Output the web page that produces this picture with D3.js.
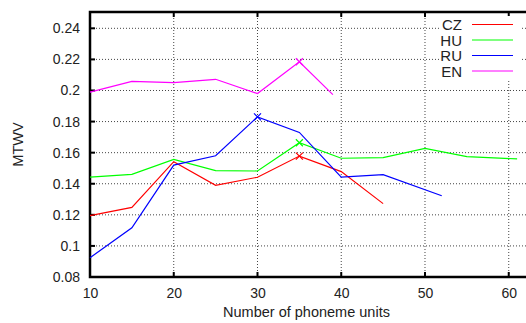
<!DOCTYPE html>
<html><head><meta charset="utf-8">
<script src="https://cdn.jsdelivr.net/npm/d3@7"></script>
<style>body{margin:0;background:#fff}svg{display:block}text{font-family:"Liberation Sans",Arial,sans-serif;fill:#222}</style>
</head><body>
<script>
const seriesNames = ["CZ", "HU", "RU", "EN"];
const seriesColors = ["#ff0000", "#00ff00", "#0000ff", "#ff00ff"];
const czX = [10, 15, 20, 25, 30, 35, 40, 45];
const czY = [0.1195, 0.1248, 0.1542, 0.1390, 0.1442, 0.1578, 0.1478, 0.1272];
const huX = [10, 15, 20, 25, 30, 35, 40, 45, 50, 55, 61];
const huY = [0.1442, 0.1460, 0.1557, 0.1484, 0.1482, 0.1664, 0.1564, 0.1568, 0.1628, 0.1574, 0.1560];
const ruX = [10, 15, 20, 25, 30, 35, 40, 45, 52];
const ruY = [0.0924, 0.1117, 0.1520, 0.1580, 0.1830, 0.1730, 0.1442, 0.1458, 0.1323];
const enX = [10, 15, 20, 25, 30, 35, 39];
const enY = [0.1990, 0.2058, 0.2050, 0.2072, 0.1980, 0.2185, 0.1973];
const xTicks = [10, 20, 30, 40, 50, 60];
const yTicks = [0.08, 0.1, 0.12, 0.14, 0.16, 0.18, 0.2, 0.22, 0.24];
const yTickLabels = ["0.08", "0.1", "0.12", "0.14", "0.16", "0.18", "0.2", "0.22", "0.24"];
const xLabel = "Number of phoneme units";
const yLabel = "MTWV";

const W = 526, H = 323;
const m = {left: 90, top: 12, right: -2, bottom: 46};
const svg = d3.select("body").append("svg").attr("width", W).attr("height", H);
const x = d3.scaleLinear().domain([10, 62.3]).range([m.left, W - m.right]);
const y = d3.scaleLinear().domain([0.08, 0.2505]).range([H - m.bottom, m.top]);

const g = svg.append("g");
// grid
g.selectAll(".gx").data(xTicks.slice(1)).enter().append("line")
  .attr("x1", d => x(d)).attr("x2", d => x(d)).attr("y1", y(0.08)).attr("y2", m.top)
  .attr("stroke", "#444").attr("stroke-width", 1).attr("stroke-dasharray", "1,2");
g.selectAll(".gy").data(yTicks.slice(1)).enter().append("line")
  .attr("x1", m.left).attr("x2", W).attr("y1", d => y(d)).attr("y2", d => y(d))
  .attr("stroke", "#444").attr("stroke-width", 1).attr("stroke-dasharray", "1,2");

// axes via d3
const xAxis = d3.axisBottom(x).tickValues(xTicks).tickSize(0).tickPadding(11).tickFormat(d3.format("d"));
const yAxis = d3.axisLeft(y).tickValues(yTicks).tickSize(0).tickPadding(10).tickFormat((d, i) => yTickLabels[i]);
const gx = svg.append("g").attr("transform", `translate(0,${y(0.08)})`).call(xAxis);
const gy = svg.append("g").attr("transform", `translate(${m.left},0)`).call(yAxis);
[gx, gy].forEach(a => { a.select(".domain").remove(); a.selectAll("text").attr("font-size", 14).attr("fill", "#222"); });

// inward tick marks
g.selectAll(".tx").data(xTicks).enter().append("line")
  .attr("x1", d => x(d)).attr("x2", d => x(d)).attr("y1", y(0.08)).attr("y2", y(0.08) - 5)
  .attr("stroke", "#000").attr("stroke-width", 2);
g.selectAll(".tx2").data(xTicks).enter().append("line")
  .attr("x1", d => x(d)).attr("x2", d => x(d)).attr("y1", m.top).attr("y2", m.top + 5)
  .attr("stroke", "#000").attr("stroke-width", 2);
g.selectAll(".ty").data(yTicks).enter().append("line")
  .attr("x1", m.left).attr("x2", m.left + 5).attr("y1", d => y(d)).attr("y2", d => y(d))
  .attr("stroke", "#000").attr("stroke-width", 2);

// legend background (hides grid behind the key)
svg.append("rect").attr("x", 441).attr("y", 16).attr("width", 79).attr("height", 63).attr("fill", "#fff");

// frame
svg.append("path").attr("d", `M${W},${m.top}H${m.left}V${y(0.08)}H${W}`)
  .attr("fill", "none").attr("stroke", "#000").attr("stroke-width", 2.5);

// series
const data = [[czX, czY], [huX, huY], [ruX, ruY], [enX, enY]];
const line = d3.line().x(d => x(d[0])).y(d => y(d[1]));
data.forEach(([xs, ys], i) => {
  const pts = xs.map((v, j) => [v, ys[j]]);
  svg.append("path").datum(pts).attr("d", line).attr("fill", "none")
    .attr("stroke", seriesColors[i]).attr("stroke-width", 1.2);
  const mx = d3.maxIndex(ys);
  const cx = x(xs[mx]), cy = y(ys[mx]), s = 3.5;
  svg.append("path").attr("d", `M${cx - s},${cy - s}L${cx + s},${cy + s}M${cx - s},${cy + s}L${cx + s},${cy - s}`)
    .attr("stroke", seriesColors[i]).attr("stroke-width", 1.2);
});

// legend
seriesNames.forEach((n, i) => {
  const ly = 24.5 + i * 15.5;
  svg.append("text").attr("x", 462).attr("y", ly + 5.5).attr("text-anchor", "end")
    .attr("font-size", 15).text(n);
  svg.append("line").attr("x1", 472).attr("x2", 513).attr("y1", ly).attr("y2", ly)
    .attr("stroke", seriesColors[i]).attr("stroke-width", 1.2);
});

// labels
svg.append("text").attr("x", (m.left + 523) / 2).attr("y", 317).attr("text-anchor", "middle")
  .attr("font-size", 14.5).text(xLabel);
svg.append("text").attr("transform", `translate(23,${(m.top + y(0.08)) / 2}) rotate(-90)`)
  .attr("text-anchor", "middle").attr("font-size", 14.5).text(yLabel);
</script>
</body></html>
